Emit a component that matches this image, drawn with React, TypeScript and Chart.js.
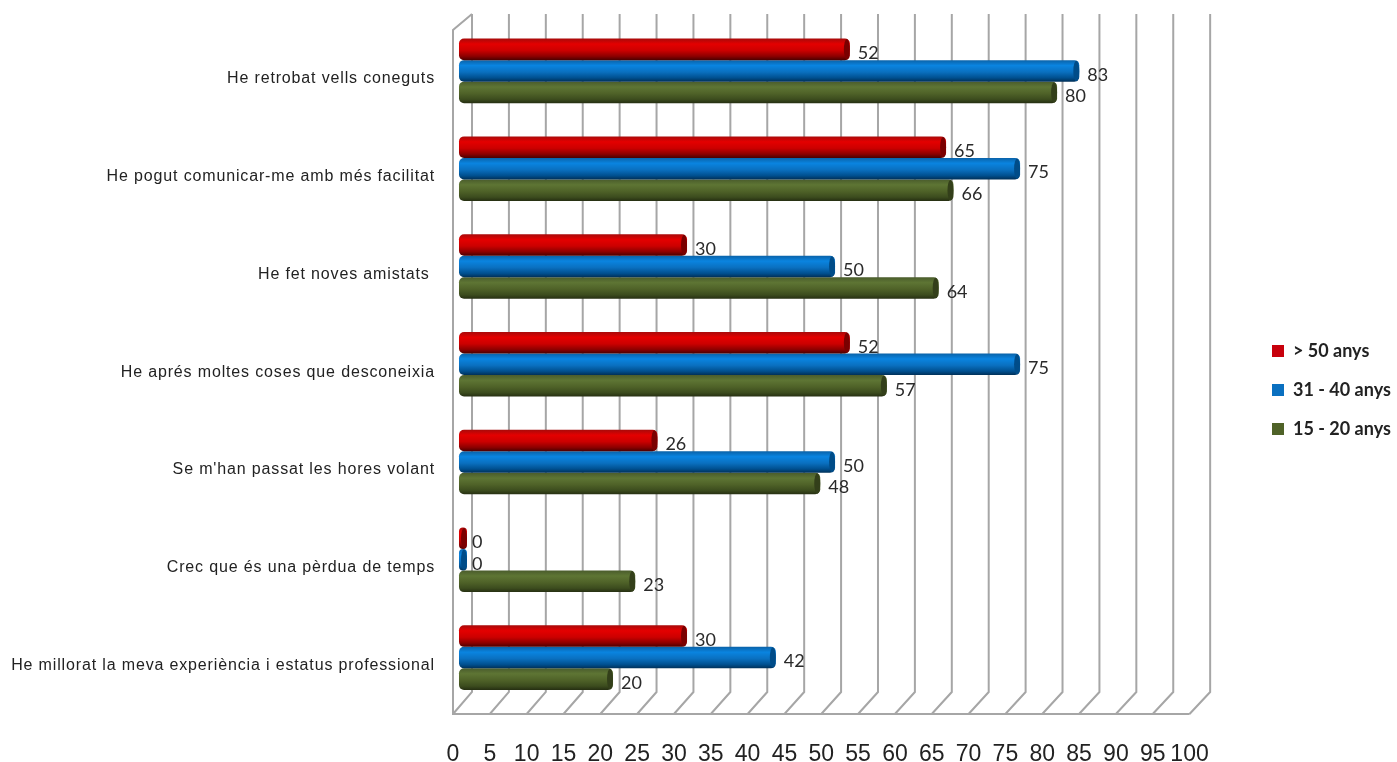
import React, { useEffect, useRef } from "react";
import { Chart, registerables } from "chart.js";

Chart.register(...registerables);

const categories = [
  "He retrobat vells coneguts",
  "He pogut comunicar-me amb més facilitat",
  "He fet noves amistats ",
  "He aprés moltes coses que desconeixia",
  "Se m'han passat les hores volant",
  "Crec que és una pèrdua de temps",
  "He millorat la meva experiència i estatus professional",
];
const over50 = [52, 65, 30, 52, 26, 0, 30];
const age31to40 = [83, 75, 50, 75, 50, 0, 42];
const age15to20 = [80, 66, 64, 57, 48, 23, 20];
const seriesNames = ["> 50 anys", "31 - 40 anys", "15 - 20 anys"];
const seriesColors = ["#c8000c", "#0a70c0", "#4f6228"];
const gradients = [
  ["#a80a0a", "#e40000", "#cc0000", "#8c0000", "#4a0000"],
  ["#0a62a8", "#0a84e0", "#0a70c0", "#005090", "#003058"],
  ["#4a5c2c", "#5e7534", "#4f6228", "#3c4c1e", "#262f12"],
];
const capColors = ["#7a0000", "#004c88", "#333f1a"];
const stops = [0, 0.25, 0.55, 0.82, 1];
const GRID = "#a6a6a6";

const cylinders = {
  id: "cylinders",
  beforeDatasetDraw(chart: any, args: any) {
    const colors = gradients[args.index];
    args.meta.data.forEach((el: any) => {
      const h = el.height;
      const g = chart.ctx.createLinearGradient(0, el.y - h / 2, 0, el.y + h / 2);
      colors.forEach((c: string, i: number) => g.addColorStop(stops[i], c));
      el.options = { ...el.options, backgroundColor: g };
    });
  },
  afterDatasetDraw(chart: any, args: any) {
    const { ctx } = chart;
    ctx.save();
    ctx.fillStyle = capColors[args.index];
    args.meta.data.forEach((el: any) => {
      ctx.beginPath();
      ctx.ellipse(el.x - 3, el.y, 3, el.height / 2 - 0.5, 0, 0, Math.PI * 2);
      ctx.fill();
    });
    ctx.restore();
  },
};

const walls = {
  id: "walls",
  afterLayout(chart: any) {
    const lg = chart.legend;
    lg.left = 1251;
    lg.right = 1397;
    lg.top = 321;
    lg.bottom = 480;
    const y = chart.scales.y;
    if (!y.spacedLabels) {
      const draw = y.drawLabels.bind(y);
      y.spacedLabels = true;
      y.drawLabels = (area: any) => {
        chart.ctx.save();
        chart.ctx.letterSpacing = "0.85px";
        draw(area);
        chart.ctx.restore();
      };
    }
  },
  beforeDatasetsDraw(chart: any) {
    const { ctx, chartArea, scales } = chart;
    const bottom = chartArea.bottom + 7.5;
    const wallBottom = bottom - 22;
    const top = chartArea.top - 8;
    ctx.save();
    ctx.strokeStyle = GRID;
    ctx.lineWidth = 2;
    ctx.beginPath();
    for (const tick of scales.xFront.ticks) {
      const front = scales.xFront.getPixelForValue(tick.value);
      const back = scales.xBack.getPixelForValue(tick.value);
      ctx.moveTo(back, top);
      ctx.lineTo(back, wallBottom);
      ctx.lineTo(front, bottom);
    }
    const f0 = scales.xFront.getPixelForValue(0);
    const f100 = scales.xFront.getPixelForValue(100);
    const b0 = scales.xBack.getPixelForValue(0);
    ctx.moveTo(f100, bottom);
    ctx.lineTo(f0, bottom);
    ctx.lineTo(f0, top + 16);
    ctx.lineTo(b0, top);
    ctx.stroke();

    // value labels sit under the bars, as the longer neighbouring bar overlaps them
    ctx.fillStyle = "#2a2a2a";
    ctx.font = "18px Lato";
    ctx.textAlign = "left";
    ctx.textBaseline = "middle";
    chart.data.datasets.forEach((ds: any, i: number) => {
      chart.getDatasetMeta(i).data.forEach((el: any, j: number) => {
        const gap = ds.data[j] === 0 ? 5 : 8;
        ctx.fillText(String(ds.data[j]), el.x + gap, el.y + 4);
      });
    });
    ctx.restore();
  },
};

export default function App() {
  const ref = useRef<HTMLCanvasElement>(null);
  useEffect(() => {
    const make = (i: number, data: number[]) => ({
      label: seriesNames[i],
      data,
      backgroundColor: seriesColors[i],
      borderWidth: 0,
      borderRadius: 5,
      borderSkipped: false,
      base: -0.81,
      minBarLength: 8,
      categoryPercentage: 0.66,
      barPercentage: 1,
    });
    const chart = new Chart(ref.current as HTMLCanvasElement, {
      type: "bar",
      data: {
        labels: categories,
        datasets: [make(0, over50), make(1, age31to40), make(2, age15to20)],
      },
      plugins: [walls, cylinders],
      options: {
        indexAxis: "y",
        animation: false,
        responsive: false,
        devicePixelRatio: 1,
        layout: { padding: { top: 22, right: 37, bottom: 0, left: 0 } },
        plugins: {
          tooltip: { enabled: false },
          legend: {
            position: "right",
            align: "start",
            labels: {
              boxWidth: 12,
              boxHeight: 12,
              padding: 21,
              color: "#222222",
              font: { family: "Lato", size: 18, weight: "bold" },
            },
          },
        },
        scales: {
          y: {
            type: "category",
            grid: { display: false },
            border: { display: false },
            afterFit: (s: any) => {
              s.width = 453;
              s.paddingTop = 0;
              s.paddingBottom = 0;
            },
            ticks: {
              padding: 10,
              labelOffset: 8,
              color: "#222222",
              font: { family: "Liberation Sans", size: 16 },
              autoSkip: false,
            },
          },
          x: { type: "linear", display: false, min: -1.62, max: 100.68 },
          xBack: { type: "linear", display: false, axis: "x", position: "bottom", min: -2.575, max: 100 },
          xFront: {
            type: "linear",
            axis: "x",
            position: "bottom",
            min: 0,
            max: 102.8,
            afterFit: (s: any) => { s.height = 55.5; },
            grid: { display: false },
            border: { display: false },
            ticks: {
              stepSize: 5,
              includeBounds: false,
              padding: 26,
              color: "#222222",
              maxRotation: 0,
              autoSkip: false,
              font: { family: "Liberation Sans", size: 23 },
            },
          },
        },
      },
    } as any);
    return () => chart.destroy();
  }, []);
  return (
    <canvas
      ref={ref}
      width={1397}
      height={762}
      style={{ position: "absolute", left: 0, top: 0, display: "block", background: "#ffffff" }}
    />
  );
}
